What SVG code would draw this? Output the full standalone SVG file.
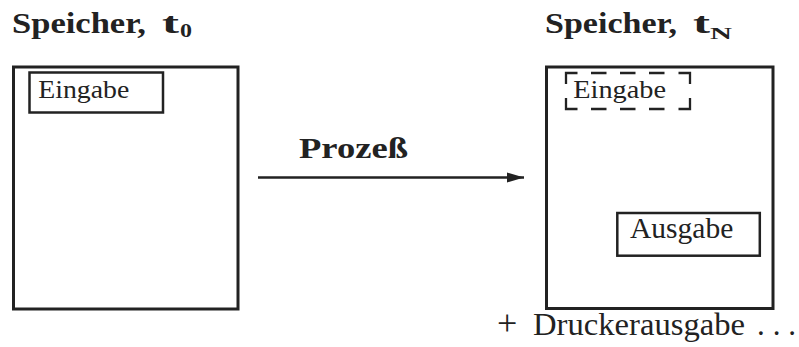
<svg xmlns="http://www.w3.org/2000/svg" width="799" height="347" viewBox="0 0 799 347">
<style>
text{font-family:'Liberation Serif','Times New Roman',serif;fill:#222}
.b{font-weight:bold}
.box{fill:none;stroke:#222;stroke-width:3}
.sm{fill:none;stroke:#222;stroke-width:2.5}
</style>
<defs>
<marker id="ah" markerWidth="18" markerHeight="11" refX="17" refY="5.5" orient="auto" markerUnits="userSpaceOnUse">
<path d="M0,0.5 L17,5.5 L0,10.5 Z" fill="#222"/>
</marker>
</defs>
<rect width="799" height="347" fill="#fff"/>
<g id="title-left">
<text class="b" x="12" y="33" font-size="29" textLength="134" lengthAdjust="spacingAndGlyphs">Speicher,</text>
<text class="b" x="162" y="33" font-size="29" textLength="17" lengthAdjust="spacingAndGlyphs">t</text>
<text class="b" x="180" y="37" font-size="18" textLength="12" lengthAdjust="spacingAndGlyphs">0</text>
</g>
<g id="title-right">
<text class="b" x="545" y="33" font-size="29" textLength="132" lengthAdjust="spacingAndGlyphs">Speicher,</text>
<text class="b" x="693" y="33" font-size="29" textLength="17" lengthAdjust="spacingAndGlyphs">t</text>
<text class="b" x="710" y="39" font-size="17" textLength="22" lengthAdjust="spacingAndGlyphs">N</text>
</g>
<g id="speicher-t0">
<rect class="box" x="13.5" y="67" width="224.5" height="242"/>
</g>
<g id="eingabe-left">
<rect class="sm" x="29.5" y="72.5" width="133.5" height="40"/>
<text x="38.3" y="97.7" font-size="25" textLength="91" lengthAdjust="spacingAndGlyphs">Eingabe</text>
</g>
<g id="speicher-tN">
<rect class="box" x="546.5" y="67" width="226.5" height="241.5"/>
</g>
<g id="eingabe-right">
<path fill="none" stroke="#222" stroke-width="2.3" d="M566,84 V73 H577.5 M591,73 H606.5 M620,73 H635.5 M649,73 H664.5 M678.5,73 H690 V84 M690,98 V109 H678.5 M664.5,109 H649 M635.5,109 H620 M606.5,109 H591 M577.5,109 H566 V98"/>
<text x="573.3" y="97.7" font-size="25" textLength="92.7" lengthAdjust="spacingAndGlyphs">Eingabe</text>
</g>
<g id="ausgabe">
<rect class="sm" x="617.3" y="213" width="142.5" height="42.7"/>
<text x="630" y="238.3" font-size="29" textLength="103.3" lengthAdjust="spacingAndGlyphs">Ausgabe</text>
</g>
<g id="connectors">
<line x1="258" y1="177.5" x2="524" y2="177.5" stroke="#222" stroke-width="2.4" marker-end="url(#ah)"/>
</g>
<g id="label-prozess">
<text class="b" x="299" y="158.3" font-size="30" textLength="109" lengthAdjust="spacingAndGlyphs">Prozeß</text>
</g>
<g id="label-drucker">
<text y="335" font-size="31"><tspan x="497" font-size="36">+</tspan><tspan x="533" textLength="212" lengthAdjust="spacingAndGlyphs">Druckerausgabe</tspan><tspan x="757" textLength="39" lengthAdjust="spacing">. . .</tspan></text>
</g>
</svg>
